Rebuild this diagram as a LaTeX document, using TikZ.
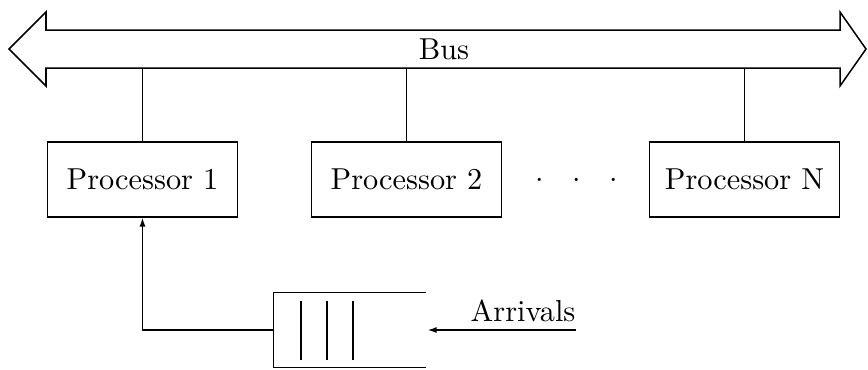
\documentclass[tikz,border=0pt]{standalone}
\usepackage{amsmath}
\usetikzlibrary{arrows.meta, calc}

\tikzset{
    procbox/.style={draw, line width=0.5pt, minimum width=62.8pt, minimum height=24.6pt, inner sep=0pt},
    link/.style={line width=0.5pt},
    feed/.style={line width=0.5pt, -{Latex[length=3pt, width=2pt]}}
}

\begin{document}
\begin{tikzpicture}[x=0.33pt, y=-0.33pt]
    \useasboundingbox (0,0) rectangle (868,369);

    % Bus (double arrow)
    \draw[link, fill=white] (9,49) -- (46,12) -- (46,30) -- (840,30) -- (840,12) -- (866,49)
        -- (840,86) -- (840,68) -- (46,68) -- (46,86) -- cycle;
    \node (bus) at (444,49) {Bus};
    \coordinate (busS) at (0,68);

    % Processors
    \node[procbox] (p1) at (142.5,179.5) {Processor 1};
    \node[procbox] (p2) at (406.5,179.5) {Processor 2};
    \node[procbox] (pn) at (744.5,179.5) {Processor N};
    \node (dots) at (577,181) {$\cdot$\hspace{9.4pt}$\cdot$\hspace{9.4pt}$\cdot$};

    \foreach \p in {p1, p2, pn}
        \draw[link] (\p.north) -- (\p.north |- busS);

    % Queue
    \node[minimum width=49.8pt, minimum height=24.4pt, inner sep=0pt] (queue) at (349.5,330) {};
    \draw[link] (queue.north east) -- (queue.north west) -- (queue.south west) -- (queue.south east);
    \foreach \x in {301, 327, 353}
        \draw[link] (\x,301) -- (\x,360);

    \draw[feed] (queue.west) -| (p1.south);

    % Arrivals
    \node[anchor=base east, inner sep=0pt] (arrivals) at (576,321) {Arrivals};
    \draw[feed] (arrivals.east |- queue.east) -- ($(queue.east)+(2,0)$);
\end{tikzpicture}
\end{document}
